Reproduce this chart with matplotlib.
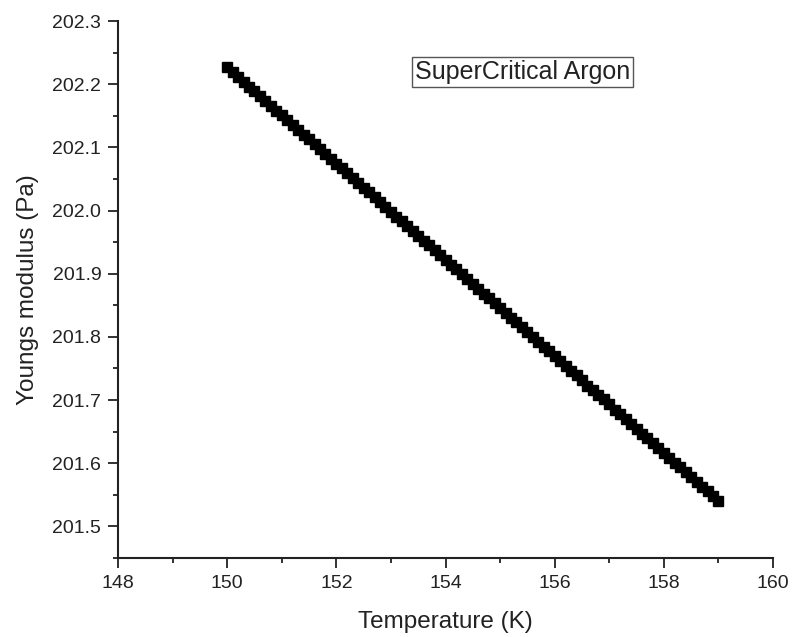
import matplotlib.pyplot as plt
from matplotlib.ticker import MultipleLocator, FormatStrFormatter

plt.rcParams.update({
    'font.family': ['Liberation Sans', 'DejaVu Sans'],
    'font.size': 14,
})

# Temperature sweep (K)
temperature = [
    150.0, 150.1, 150.2, 150.3, 150.4, 150.5, 150.6, 150.7, 150.8, 150.9,
    151.0, 151.1, 151.2, 151.3, 151.4, 151.5, 151.6, 151.7, 151.8, 151.9,
    152.0, 152.1, 152.2, 152.3, 152.4, 152.5, 152.6, 152.7, 152.8, 152.9,
    153.0, 153.1, 153.2, 153.3, 153.4, 153.5, 153.6, 153.7, 153.8, 153.9,
    154.0, 154.1, 154.2, 154.3, 154.4, 154.5, 154.6, 154.7, 154.8, 154.9,
    155.0, 155.1, 155.2, 155.3, 155.4, 155.5, 155.6, 155.7, 155.8, 155.9,
    156.0, 156.1, 156.2, 156.3, 156.4, 156.5, 156.6, 156.7, 156.8, 156.9,
    157.0, 157.1, 157.2, 157.3, 157.4, 157.5, 157.6, 157.7, 157.8, 157.9,
    158.0, 158.1, 158.2, 158.3, 158.4, 158.5, 158.6, 158.7, 158.8, 158.9,
    159.0,
]

# Young's modulus (Pa)
youngs_modulus = [
    202.227, 202.219, 202.212, 202.204, 202.196, 202.189, 202.181, 202.174, 202.166, 202.158,
    202.151, 202.143, 202.135, 202.128, 202.120, 202.113, 202.105, 202.097, 202.090, 202.082,
    202.074, 202.067, 202.059, 202.052, 202.044, 202.036, 202.029, 202.021, 202.013, 202.006,
    201.998, 201.990, 201.983, 201.975, 201.968, 201.960, 201.952, 201.945, 201.937, 201.929,
    201.922, 201.914, 201.907, 201.899, 201.891, 201.884, 201.876, 201.868, 201.861, 201.853,
    201.846, 201.838, 201.830, 201.823, 201.815, 201.807, 201.800, 201.792, 201.784, 201.777,
    201.769, 201.762, 201.754, 201.746, 201.739, 201.731, 201.723, 201.716, 201.708, 201.701,
    201.693, 201.685, 201.678, 201.670, 201.662, 201.655, 201.647, 201.640, 201.632, 201.624,
    201.617, 201.609, 201.601, 201.594, 201.586, 201.579, 201.571, 201.563, 201.556, 201.548,
    201.540,
]

fig = plt.figure(figsize=(7.93, 6.37), dpi=100)
ax = fig.add_axes([0.1488, 0.1240, 0.826, 0.8430])

ax.plot(temperature, youngs_modulus, linestyle='none', marker='s',
        markersize=6.5, color='black')

ax.set_xlim(148, 160)
ax.set_ylim(201.45, 202.3)
ax.xaxis.set_major_locator(MultipleLocator(2))
ax.xaxis.set_minor_locator(MultipleLocator(1))
ax.set_yticks([201.5, 201.6, 201.7, 201.8, 201.9, 202.0, 202.1, 202.2, 202.3])
ax.yaxis.set_minor_locator(MultipleLocator(0.05))
ax.yaxis.set_major_formatter(FormatStrFormatter('%.1f'))

for side in ('top', 'right'):
    ax.spines[side].set_visible(False)
for side in ('left', 'bottom'):
    ax.spines[side].set_linewidth(1.5)
    ax.spines[side].set_color('#222222')

ax.tick_params(which='major', direction='out', length=7, width=1.3,
               colors='#222222', labelsize=14, pad=5)
ax.tick_params(which='minor', direction='out', length=3.5, width=1.3,
               colors='#222222')

ax.set_xlabel('Temperature (K)', fontsize=17.5, color='#222222', labelpad=14)
ax.set_ylabel('Youngs modulus (Pa)', fontsize=17.5, color='#222222', labelpad=10)

ax.text(0.617, 0.905, 'SuperCritical Argon', transform=ax.transAxes,
        ha='center', va='center', fontsize=18, color='#222222',
        bbox=dict(boxstyle='square,pad=0.12', facecolor='white',
                  edgecolor='#555555', linewidth=1))

fig.savefig('out.png', dpi=100)
